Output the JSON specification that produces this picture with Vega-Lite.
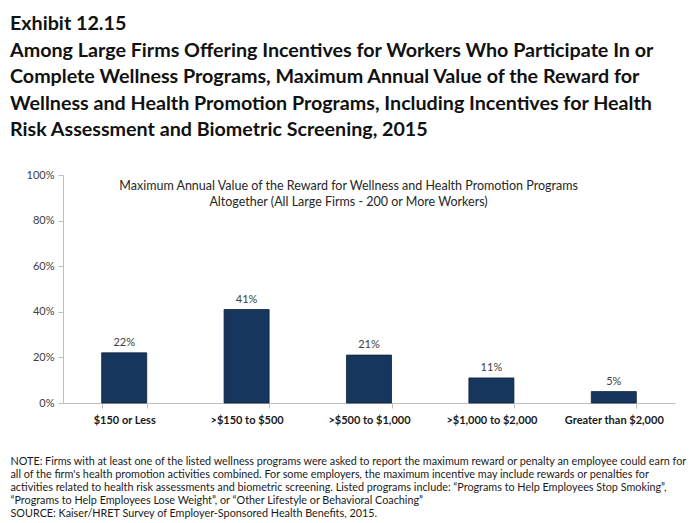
{
  "$schema": "https://vega.github.io/schema/vega-lite/v6.json",
  "padding": {"left": 10, "top": 14, "right": 10, "bottom": 0},
  "background": "white",
  "config": {"font": "Lato", "view": {"stroke": null}},
  "title": {
    "text": ["Exhibit 12.15", "Among Large Firms Offering Incentives for Workers Who Participate In or", "Complete Wellness Programs, Maximum Annual Value of the Reward for", "Wellness and Health Promotion Programs, Including Incentives for Health", "Risk Assessment and Biometric Screening, 2015"],
    "anchor": "start",
    "frame": "bounds",
    "font": "Lato",
    "fontSize": 19.7,
    "fontWeight": "bold",
    "lineHeight": 26.5,
    "color": "#111111",
    "offset": 29
  },
  "vconcat": [
    {
      "width": 612,
      "height": 228,
      "title": {
        "text": ["Maximum Annual Value of the Reward for Wellness and Health Promotion Programs", "Altogether (All Large Firms - 200 or More Workers)"],
        "anchor": "middle",
        "frame": "bounds",
        "font": "Lato",
        "fontSize": 12.5,
        "fontWeight": "normal",
        "lineHeight": 16,
        "color": "#262626",
        "offset": -39
      },
      "data": {
        "values": [
          {"category": "$150 or Less", "share": 0.22},
          {"category": ">$150 to $500", "share": 0.41},
          {"category": ">$500 to $1,000", "share": 0.21},
          {"category": ">$1,000 to $2,000", "share": 0.11},
          {"category": "Greater than $2,000", "share": 0.05}
        ]
      },
      "encoding": {
        "x": {
          "field": "category",
          "type": "nominal",
          "sort": null,
          "scale": {"paddingInner": 0.632, "paddingOuter": 0.316},
          "axis": {
            "labelAngle": 0,
            "labelFont": "Lato",
            "labelFontSize": 11,
            "labelFontWeight": "bold",
            "labelColor": "#1a1a1a",
            "labelPadding": 6,
            "domainColor": "#bfbfbf",
            "tickColor": "#bfbfbf",
            "tickSize": 5,
            "tickBand": "extent",
            "title": ["NOTE: Firms with at least one of the listed wellness programs were asked to report the maximum reward or penalty an employee could earn for", "all of the firm's health promotion activities combined.  For some employers, the maximum incentive may include rewards or penalties for", "activities related to health risk assessments and biometric screening.  Listed programs include: “Programs to Help Employees Stop Smoking”,", "“Programs to Help Employees Lose Weight”, or “Other Lifestyle or Behavioral Coaching”", "SOURCE: Kaiser/HRET Survey of Employer-Sponsored Health Benefits, 2015."],
            "titleFont": "Lato",
            "titleFontSize": 10.8,
            "titleFontWeight": "normal",
            "titleColor": "#1a1a1a",
            "titleLineHeight": 13.2,
            "titleAnchor": "start",
            "titleAlign": "left",
            "titleBaseline": "top",
            "titleX": -53,
            "titleY": 52
          }
        },
        "y": {
          "field": "share",
          "type": "quantitative",
          "scale": {"domain": [0, 1]},
          "axis": {
            "values": [0, 0.2, 0.4, 0.6, 0.8, 1],
            "format": ".0%",
            "grid": false,
            "title": null,
            "labelFont": "Lato",
            "labelFontSize": 11,
            "labelColor": "#404040",
            "labelPadding": 4,
            "domainColor": "#bfbfbf",
            "tickColor": "#bfbfbf",
            "tickSize": 5
          }
        }
      },
      "layer": [
        {"mark": {"type": "bar", "color": "#17365d", "stroke": "#0f2236", "strokeWidth": 0.8}},
        {
          "mark": {"type": "text", "dy": -10, "fontSize": 11, "color": "#404040", "font": "Lato"},
          "encoding": {"text": {"field": "share", "type": "quantitative", "format": ".0%"}}
        }
      ]
    }
  ]
}
